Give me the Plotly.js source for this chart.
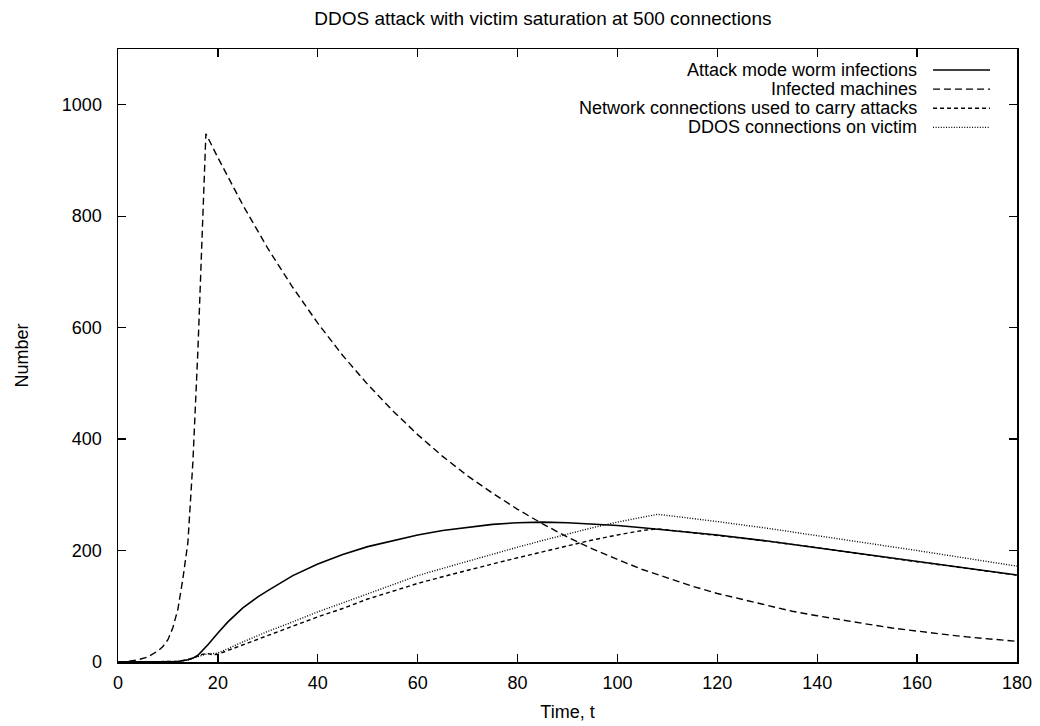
<!DOCTYPE html>
<html>
<head>
<meta charset="utf-8">
<script src="https://cdn.plot.ly/plotly-3.0.1.min.js"></script>
<style>html,body{margin:0;padding:0;background:#fff;}#chart{width:1040px;height:726px;}</style>
</head>
<body>
<div id="chart"></div>
<script>
// ---- data ----
const seriesNames = [
  "Attack mode worm infections",
  "Infected machines",
  "Network connections used to carry attacks",
  "DDOS connections on victim"
];

const attackTime   = [0, 5, 10, 12, 14, 15, 16, 17, 18, 20, 22, 25, 28, 30, 35, 40, 45, 50, 55, 60, 65, 70, 75, 80, 85, 90, 95, 100, 105, 110, 115, 120, 130, 140, 150, 160, 170, 180];
const attackValues = [0, 0, 0.5, 1, 4, 7, 12, 21, 31, 52, 72, 97, 117, 128, 155, 176, 193, 207, 218, 228, 236, 242, 247, 250, 251, 250, 248, 245, 241, 237, 233, 228, 217, 205, 192, 180, 168, 156];

const infectedTime   = [0, 2, 4, 6, 8, 9, 10, 11, 12, 13, 14, 15, 16, 17, 17.6, 20, 25, 30, 35, 40, 45, 50, 55, 60, 65, 70, 75, 80, 85, 90, 95, 100, 105, 110, 115, 120, 125, 130, 135, 140, 145, 150, 155, 160, 165, 170, 175, 180];
const infectedValues = [0, 1, 4, 9, 20, 28, 40, 62, 95, 150, 215, 360, 560, 800, 948, 905, 820, 742, 672, 608, 550, 498, 451, 408, 369, 334, 303, 274, 248, 224, 203, 184, 166, 151, 136, 123, 112, 101, 91, 83, 75, 68, 61, 55, 50, 45, 41, 37];

const networkTime   = [0, 5, 10, 12, 14, 15, 16, 17, 18, 19, 20, 25, 30, 35, 40, 45, 50, 55, 60, 65, 70, 75, 80, 85, 90, 95, 100, 105, 108, 110, 115, 120, 130, 140, 150, 160, 170, 180];
const networkValues = [0, 0, 0.5, 1, 4, 7, 10, 14, 15, 13, 14, 31, 48, 65, 81, 96, 113, 127, 141, 153, 165, 176, 187, 198, 209, 219, 228, 236, 239, 237, 233, 228, 217, 205, 192, 180, 168, 156];

const ddosTime   = [0, 5, 10, 12, 14, 15, 16, 17, 18, 19, 20, 25, 30, 35, 40, 45, 50, 55, 60, 65, 70, 75, 80, 85, 90, 95, 100, 105, 108, 110, 115, 120, 130, 140, 150, 160, 170, 180];
const ddosValues = [0, 0, 0.5, 1, 4, 7, 10, 13, 15, 15, 16, 36, 55, 72, 90, 106, 122, 139, 155, 168, 181, 194, 206, 218, 230, 241, 251, 260, 265, 263, 258, 252, 240, 227, 214, 200, 186, 172];

const xTicks = [0, 20, 40, 60, 80, 100, 120, 140, 160, 180];
const yTicks = [0, 200, 400, 600, 800, 1000];

// ---- styling ----
const FONT = "Liberation Sans, Arial, Helvetica, sans-serif";
const dashes = ["solid", "7px,4px", "4px,3px", "1px,1.6px"];
const widths = [1.6, 1.4, 1.4, 1.4];
const xs = [attackTime, infectedTime, networkTime, ddosTime];
const ys = [attackValues, infectedValues, networkValues, ddosValues];

const traces = seriesNames.map((name, i) => ({
  x: xs[i], y: ys[i], name: name, type: "scatter", mode: "lines",
  line: {color: "#000", width: widths[i], dash: dashes[i]},
  showlegend: false, hoverinfo: "skip"
}));

// manual legend (text right-aligned, sample line on its right, like gnuplot)
const annotations = [];
const shapes = [];
seriesNames.forEach((name, i) => {
  const yy = 0.9657 - i * 0.0312;
  annotations.push({
    xref: "paper", yref: "paper", x: 0.891, y: yy, xanchor: "right", yanchor: "middle",
    text: name, showarrow: false, font: {family: FONT, size: 18, color: "#000"}
  });
  shapes.push({
    type: "line", xref: "paper", yref: "paper", x0: 0.9066, x1: 0.970, y0: yy, y1: yy,
    line: {color: "#000", width: widths[i], dash: dashes[i]}
  });
});

const axisCommon = {
  showgrid: false, zeroline: false, showline: true, linecolor: "#000", linewidth: 1.5,
  mirror: "ticks", ticks: "inside", ticklen: 8, tickwidth: 1.3, tickcolor: "#000",
  tickfont: {family: FONT, size: 18, color: "#000"}
};

const layout = {
  width: 1040, height: 726,
  paper_bgcolor: "#fff", plot_bgcolor: "#fff",
  margin: {l: 118, r: 23, t: 49, b: 64},
  title: {text: "DDOS attack with victim saturation at 500 connections",
          font: {family: FONT, size: 19, color: "#000"},
          xref: "container", x: 0.522, xanchor: "center",
          yref: "container", y: 0.975, yanchor: "middle"},
  xaxis: Object.assign({}, axisCommon, {
    range: [0, 180], tickvals: xTicks, ticktext: xTicks.map(String),
    ticklabelstandoff: 4,
    title: {text: "Time, t", font: {family: FONT, size: 18, color: "#000"}, standoff: 13}
  }),
  yaxis: Object.assign({}, axisCommon, {
    range: [0, 1100], tickvals: yTicks, ticktext: yTicks.map(String),
    ticklabelstandoff: 11,
    title: {text: "Number", font: {family: FONT, size: 18, color: "#000"}, standoff: 28}
  }),
  showlegend: false,
  annotations: annotations,
  shapes: shapes
};

Plotly.newPlot("chart", traces, layout, {staticPlot: true, displayModeBar: false});
</script>
</body>
</html>
